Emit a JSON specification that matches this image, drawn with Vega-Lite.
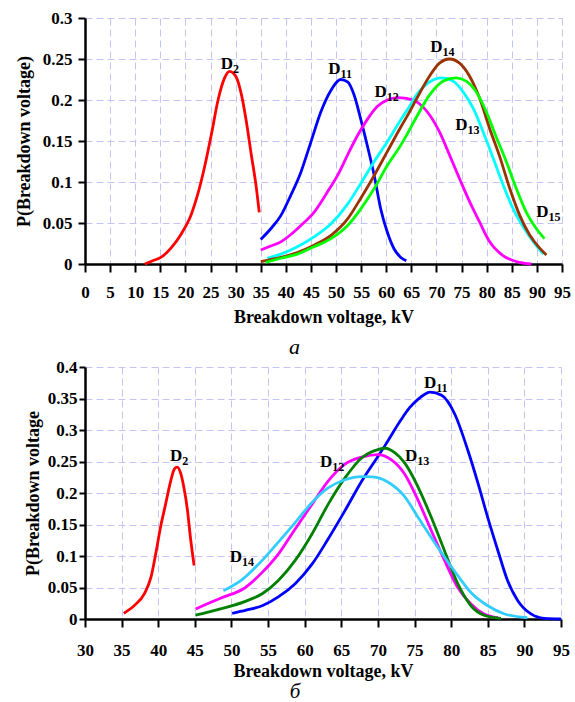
{
  "$schema": "https://vega.github.io/schema/vega-lite/v6.json",
  "padding": {"left": 15, "top": 9, "right": 0, "bottom": 0},
  "spacing": 0,
  "resolve": {"scale": {"color": "independent"}},
  "config": {
    "font": "Liberation Serif",
    "view": {"stroke": null},
    "axis": {
      "labelFont": "Liberation Serif", "labelFontWeight": "bold", "labelFontSize": 17, "labelColor": "black",
      "titleFont": "Liberation Serif", "titleFontWeight": "bold", "titleFontSize": 18, "titleColor": "black",
      "domainColor": "black", "domainWidth": 2.5, "tickColor": "black", "tickWidth": 2,
      "gridColor": "#c4c4f4", "gridDash": [7, 4], "gridWidth": 1
    },
    "title": {"font": "Liberation Serif", "fontStyle": "italic", "fontWeight": "normal", "fontSize": 22, "color": "black"}
  },
  "datasets": {
    "top": [
      {"s":"D2","x":11.9,"y":0.0},{"s":"D2","x":13.5,"y":0.004},{"s":"D2","x":15.1,"y":0.008},{"s":"D2","x":17.2,"y":0.02},{"s":"D2","x":19.2,"y":0.037},{"s":"D2","x":21.2,"y":0.061},{"s":"D2","x":22.5,"y":0.086},{"s":"D2","x":23.8,"y":0.118},{"s":"D2","x":25.2,"y":0.159},{"s":"D2","x":26.5,"y":0.2},{"s":"D2","x":27.8,"y":0.227},{"s":"D2","x":28.8,"y":0.235},{"s":"D2","x":30.1,"y":0.228},{"s":"D2","x":31.1,"y":0.208},{"s":"D2","x":32.1,"y":0.175},{"s":"D2","x":33.1,"y":0.134},{"s":"D2","x":34.1,"y":0.094},{"s":"D2","x":34.7,"y":0.063},
      {"s":"D11","x":35,"y":0.03},{"s":"D11","x":37,"y":0.043},{"s":"D11","x":39,"y":0.059},{"s":"D11","x":41,"y":0.084},{"s":"D11","x":43,"y":0.112},{"s":"D11","x":45,"y":0.149},{"s":"D11","x":47,"y":0.186},{"s":"D11","x":49,"y":0.212},{"s":"D11","x":50.9,"y":0.225},{"s":"D11","x":52.3,"y":0.222},{"s":"D11","x":53.6,"y":0.206},{"s":"D11","x":54.9,"y":0.177},{"s":"D11","x":56.2,"y":0.145},{"s":"D11","x":57.6,"y":0.108},{"s":"D11","x":58.9,"y":0.067},{"s":"D11","x":60.2,"y":0.039},{"s":"D11","x":61.6,"y":0.018},{"s":"D11","x":62.9,"y":0.008},{"s":"D11","x":64,"y":0.004},
      {"s":"D12","x":35,"y":0.017},{"s":"D12","x":37,"y":0.022},{"s":"D12","x":39,"y":0.027},{"s":"D12","x":41,"y":0.036},{"s":"D12","x":43,"y":0.047},{"s":"D12","x":45.6,"y":0.063},{"s":"D12","x":48.3,"y":0.088},{"s":"D12","x":50.3,"y":0.108},{"s":"D12","x":52.3,"y":0.133},{"s":"D12","x":54.3,"y":0.157},{"s":"D12","x":56.3,"y":0.177},{"s":"D12","x":58.2,"y":0.192},{"s":"D12","x":60.2,"y":0.2},{"s":"D12","x":62.2,"y":0.203},{"s":"D12","x":64,"y":0.202},{"s":"D12","x":66,"y":0.198},{"s":"D12","x":68.6,"y":0.182},{"s":"D12","x":70.6,"y":0.161},{"s":"D12","x":72.6,"y":0.133},{"s":"D12","x":74.6,"y":0.104},{"s":"D12","x":76.6,"y":0.076},{"s":"D12","x":78.6,"y":0.051},{"s":"D12","x":80.6,"y":0.027},{"s":"D12","x":83.3,"y":0.01},{"s":"D12","x":85.9,"y":0.003},{"s":"D12","x":88.9,"y":0.0},
      {"s":"D13","x":36.3,"y":0.007},{"s":"D13","x":39,"y":0.012},{"s":"D13","x":42.3,"y":0.021},{"s":"D13","x":45.6,"y":0.033},{"s":"D13","x":49,"y":0.049},{"s":"D13","x":52.3,"y":0.073},{"s":"D13","x":54.9,"y":0.098},{"s":"D13","x":57.6,"y":0.125},{"s":"D13","x":60.2,"y":0.149},{"s":"D13","x":62.9,"y":0.176},{"s":"D13","x":64.5,"y":0.191},{"s":"D13","x":66,"y":0.206},{"s":"D13","x":68.6,"y":0.222},{"s":"D13","x":71,"y":0.227},{"s":"D13","x":73.3,"y":0.223},{"s":"D13","x":75.3,"y":0.21},{"s":"D13","x":77.3,"y":0.19},{"s":"D13","x":79.3,"y":0.161},{"s":"D13","x":81.3,"y":0.129},{"s":"D13","x":83.3,"y":0.096},{"s":"D13","x":85.3,"y":0.067},{"s":"D13","x":87.3,"y":0.045},{"s":"D13","x":89.3,"y":0.027},{"s":"D13","x":91.3,"y":0.012},
      {"s":"D14","x":35,"y":0.003},{"s":"D14","x":39,"y":0.008},{"s":"D14","x":42.3,"y":0.014},{"s":"D14","x":45.6,"y":0.023},{"s":"D14","x":49,"y":0.035},{"s":"D14","x":52.3,"y":0.055},{"s":"D14","x":54.9,"y":0.08},{"s":"D14","x":57.6,"y":0.108},{"s":"D14","x":60.2,"y":0.137},{"s":"D14","x":62.9,"y":0.167},{"s":"D14","x":64.5,"y":0.184},{"s":"D14","x":66,"y":0.201},{"s":"D14","x":68.6,"y":0.229},{"s":"D14","x":70.6,"y":0.245},{"s":"D14","x":72.6,"y":0.25},{"s":"D14","x":74.6,"y":0.245},{"s":"D14","x":76.6,"y":0.229},{"s":"D14","x":78.6,"y":0.202},{"s":"D14","x":80.6,"y":0.165},{"s":"D14","x":82.6,"y":0.131},{"s":"D14","x":84.6,"y":0.092},{"s":"D14","x":86.6,"y":0.059},{"s":"D14","x":88.6,"y":0.035},{"s":"D14","x":90.6,"y":0.019},{"s":"D14","x":91.9,"y":0.011},
      {"s":"D15","x":36,"y":0.002},{"s":"D15","x":39,"y":0.007},{"s":"D15","x":42.3,"y":0.012},{"s":"D15","x":45.6,"y":0.021},{"s":"D15","x":49,"y":0.031},{"s":"D15","x":52.3,"y":0.047},{"s":"D15","x":54.9,"y":0.067},{"s":"D15","x":57.6,"y":0.092},{"s":"D15","x":60.2,"y":0.12},{"s":"D15","x":62.9,"y":0.145},{"s":"D15","x":64.5,"y":0.162},{"s":"D15","x":66,"y":0.179},{"s":"D15","x":68.6,"y":0.206},{"s":"D15","x":71.3,"y":0.223},{"s":"D15","x":73.9,"y":0.227},{"s":"D15","x":75.9,"y":0.223},{"s":"D15","x":77.9,"y":0.21},{"s":"D15","x":79.9,"y":0.186},{"s":"D15","x":81.9,"y":0.155},{"s":"D15","x":83.9,"y":0.125},{"s":"D15","x":85.9,"y":0.092},{"s":"D15","x":87.9,"y":0.063},{"s":"D15","x":89.9,"y":0.043},{"s":"D15","x":91.5,"y":0.031}
    ],
    "topLabels": [
      {"d":"D","sub":"2","x":29.5,"y":0.244},
      {"d":"D","sub":"11","x":50.9,"y":0.238},
      {"d":"D","sub":"12","x":60.1,"y":0.21},
      {"d":"D","sub":"14","x":71.2,"y":0.265},
      {"d":"D","sub":"13","x":76.2,"y":0.17},
      {"d":"D","sub":"15","x":92.3,"y":0.063}
    ],
    "bottom": [
      {"s":"D2","x":35.3,"y":0.009},{"s":"D2","x":36.7,"y":0.021},{"s":"D2","x":38.1,"y":0.04},{"s":"D2","x":39,"y":0.066},{"s":"D2","x":39.65,"y":0.103},{"s":"D2","x":40.3,"y":0.145},{"s":"D2","x":41,"y":0.182},{"s":"D2","x":41.7,"y":0.219},{"s":"D2","x":42.2,"y":0.238},{"s":"D2","x":42.6,"y":0.241},{"s":"D2","x":43.05,"y":0.232},{"s":"D2","x":43.5,"y":0.209},{"s":"D2","x":44,"y":0.172},{"s":"D2","x":44.4,"y":0.129},{"s":"D2","x":44.9,"y":0.085},
      {"s":"D11","x":50.1,"y":0.009},{"s":"D11","x":52,"y":0.014},{"s":"D11","x":54.2,"y":0.021},{"s":"D11","x":56.4,"y":0.035},{"s":"D11","x":58.7,"y":0.056},{"s":"D11","x":61,"y":0.087},{"s":"D11","x":63.2,"y":0.127},{"s":"D11","x":65.5,"y":0.172},{"s":"D11","x":67.8,"y":0.219},{"s":"D11","x":70,"y":0.258},{"s":"D11","x":71,"y":0.276},{"s":"D11","x":72,"y":0.295},{"s":"D11","x":73.2,"y":0.317},{"s":"D11","x":74.3,"y":0.335},{"s":"D11","x":75.5,"y":0.349},{"s":"D11","x":76.3,"y":0.356},{"s":"D11","x":77.1,"y":0.36},{"s":"D11","x":78.7,"y":0.355},{"s":"D11","x":80.5,"y":0.325},{"s":"D11","x":82.3,"y":0.267},{"s":"D11","x":83.7,"y":0.214},{"s":"D11","x":85,"y":0.161},{"s":"D11","x":86.4,"y":0.108},{"s":"D11","x":87.7,"y":0.061},{"s":"D11","x":89.1,"y":0.029},{"s":"D11","x":90.9,"y":0.008},{"s":"D11","x":92.7,"y":0.001},{"s":"D11","x":95,"y":0.0},
      {"s":"D12","x":45.1,"y":0.016},{"s":"D12","x":48.5,"y":0.033},{"s":"D12","x":51.9,"y":0.05},{"s":"D12","x":54.2,"y":0.074},{"s":"D12","x":56.4,"y":0.103},{"s":"D12","x":58.7,"y":0.143},{"s":"D12","x":61,"y":0.182},{"s":"D12","x":63.2,"y":0.219},{"s":"D12","x":65.5,"y":0.246},{"s":"D12","x":67.8,"y":0.257},{"s":"D12","x":70,"y":0.261},{"s":"D12","x":71.8,"y":0.253},{"s":"D12","x":73.6,"y":0.231},{"s":"D12","x":75.5,"y":0.188},{"s":"D12","x":77.3,"y":0.14},{"s":"D12","x":79.1,"y":0.093},{"s":"D12","x":80.9,"y":0.05},{"s":"D12","x":82.7,"y":0.024},{"s":"D12","x":84.5,"y":0.008},{"s":"D12","x":86.4,"y":0.002},
      {"s":"D13","x":45.1,"y":0.006},{"s":"D13","x":48.5,"y":0.016},{"s":"D13","x":51.9,"y":0.028},{"s":"D13","x":54.2,"y":0.04},{"s":"D13","x":56.4,"y":0.061},{"s":"D13","x":58.7,"y":0.093},{"s":"D13","x":61,"y":0.135},{"s":"D13","x":63.2,"y":0.182},{"s":"D13","x":65.5,"y":0.224},{"s":"D13","x":67.8,"y":0.256},{"s":"D13","x":70,"y":0.269},{"s":"D13","x":71,"y":0.271},{"s":"D13","x":72.3,"y":0.264},{"s":"D13","x":73.7,"y":0.247},{"s":"D13","x":75.5,"y":0.209},{"s":"D13","x":77.3,"y":0.161},{"s":"D13","x":79.1,"y":0.108},{"s":"D13","x":80.9,"y":0.056},{"s":"D13","x":82.7,"y":0.021},{"s":"D13","x":84.5,"y":0.006},{"s":"D13","x":86.8,"y":0.001},
      {"s":"D14","x":48.9,"y":0.045},{"s":"D14","x":51.5,"y":0.063},{"s":"D14","x":54.2,"y":0.093},{"s":"D14","x":56.4,"y":0.122},{"s":"D14","x":58.7,"y":0.153},{"s":"D14","x":61,"y":0.185},{"s":"D14","x":63.2,"y":0.208},{"s":"D14","x":65.5,"y":0.221},{"s":"D14","x":67.8,"y":0.226},{"s":"D14","x":69.3,"y":0.2255},{"s":"D14","x":71.4,"y":0.217},{"s":"D14","x":73.6,"y":0.195},{"s":"D14","x":75.5,"y":0.161},{"s":"D14","x":77.3,"y":0.129},{"s":"D14","x":79.1,"y":0.098},{"s":"D14","x":80.9,"y":0.069},{"s":"D14","x":82.7,"y":0.042},{"s":"D14","x":85,"y":0.021},{"s":"D14","x":87.3,"y":0.008},{"s":"D14","x":90.4,"y":0.002}
    ],
    "bottomLabels": [
      {"d":"D","sub":"2","x":43.28,"y":0.259},
      {"d":"D","sub":"14","x":51.44,"y":0.098},
      {"d":"D","sub":"12","x":63.77,"y":0.25},
      {"d":"D","sub":"13","x":75.37,"y":0.258},
      {"d":"D","sub":"11","x":77.96,"y":0.374}
    ]
  },
  "vconcat": [
    {
      "width": 477,
      "height": 246,
      "title": {"text": "a", "orient": "bottom", "dx": -29, "offset": 11},
      "encoding": {
        "x": {"field": "x", "type": "quantitative",
          "scale": {"domain": [0, 95], "nice": false, "zero": false},
          "axis": {"title": "Breakdown voltage, kV", "values": [0,5,10,15,20,25,30,35,40,45,50,55,60,65,70,75,80,85,90,95],
            "tickSize": 8, "labelPadding": 12, "titlePadding": 8, "labelFlush": false, "labelOverlap": false}},
        "y": {"field": "y", "type": "quantitative",
          "scale": {"domain": [0, 0.3], "nice": false},
          "axis": {"title": "P(Breakdown voltage)", "values": [0,0.05,0.1,0.15,0.2,0.25,0.3], "format": "~g",
            "tickSize": 7, "labelPadding": 6, "titlePadding": 9, "labelFlush": false, "labelOverlap": false}}
      },
      "layer": [
        {
          "data": {"name": "top"},
          "mark": {"type": "line", "strokeWidth": 2.8, "interpolate": "monotone"},
          "encoding": {
            "color": {"field": "s", "type": "nominal", "legend": null,
              "scale": {"domain": ["D2","D11","D12","D13","D14","D15"], "range": ["#ff0000","#0000ff","#ff00ff","#00ffff","#993300","#00ff00"]}}
          }
        },
        {
          "data": {"name": "topLabels"},
          "mark": {"type": "text", "align": "right", "baseline": "middle", "fontSize": 17, "fontWeight": "bold", "font": "Liberation Serif", "color": "black"},
          "encoding": {"text": {"field": "d"}}
        },
        {
          "data": {"name": "topLabels"},
          "mark": {"type": "text", "align": "left", "baseline": "middle", "dy": 5, "fontSize": 12, "fontWeight": "bold", "font": "Liberation Serif", "color": "black"},
          "encoding": {"text": {"field": "sub"}}
        }
      ]
    },
    {
      "width": 476,
      "height": 252,
      "title": {"text": "б", "orient": "bottom", "dx": -28, "offset": 1, "fontSize": 21},
      "encoding": {
        "x": {"field": "x", "type": "quantitative",
          "scale": {"domain": [30, 95], "nice": false, "zero": false},
          "axis": {"title": "Breakdown voltage, kV", "values": [30,35,40,45,50,55,60,65,70,75,80,85,90,95],
            "tickSize": 8, "labelPadding": 15, "titlePadding": 4, "labelFlush": false, "labelOverlap": false}},
        "y": {"field": "y", "type": "quantitative",
          "scale": {"domain": [0, 0.4], "nice": false},
          "axis": {"title": "P(Breakdown voltage", "values": [0,0.05,0.1,0.15,0.2,0.25,0.3,0.35,0.4], "format": "~g",
            "tickSize": 6, "labelPadding": 2, "titlePadding": 5, "labelFlush": false, "labelOverlap": false}}
      },
      "layer": [
        {
          "data": {"name": "bottom"},
          "mark": {"type": "line", "strokeWidth": 2.8, "interpolate": "monotone"},
          "encoding": {
            "color": {"field": "s", "type": "nominal", "legend": null,
              "scale": {"domain": ["D2","D11","D12","D13","D14"], "range": ["#ff0000","#0000ff","#ff00ff","#008000","#33ccff"]}}
          }
        },
        {
          "data": {"name": "bottomLabels"},
          "mark": {"type": "text", "align": "right", "baseline": "middle", "fontSize": 17, "fontWeight": "bold", "font": "Liberation Serif", "color": "black"},
          "encoding": {"text": {"field": "d"}}
        },
        {
          "data": {"name": "bottomLabels"},
          "mark": {"type": "text", "align": "left", "baseline": "middle", "dy": 5, "fontSize": 12, "fontWeight": "bold", "font": "Liberation Serif", "color": "black"},
          "encoding": {"text": {"field": "sub"}}
        }
      ]
    }
  ]
}
